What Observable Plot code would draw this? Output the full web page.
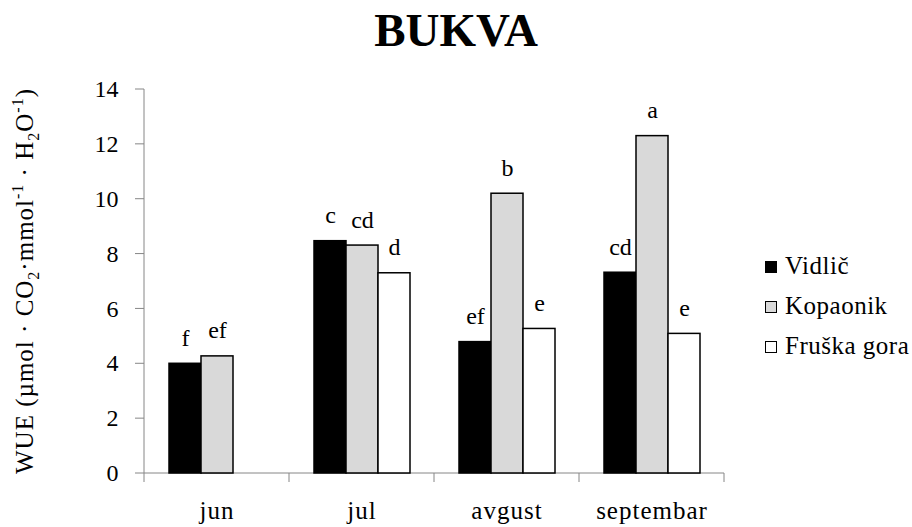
<!DOCTYPE html>
<html><head><meta charset="utf-8">
<script src="https://cdn.jsdelivr.net/npm/d3@7"></script>
<script src="https://cdn.jsdelivr.net/npm/@observablehq/plot@0.6"></script>
<style>
body{margin:0;background:#fff;}
#wrap{width:912px;height:527px;position:relative;overflow:hidden;font-family:"Liberation Serif",serif;background:#fff;}
#title{height:60px;line-height:60px;text-align:center;font-weight:bold;font-size:47px;color:#000;}
#chart svg [aria-label^="fx-axis"] text{font-size:25px;letter-spacing:1px;}
</style></head><body>
<div id="wrap"><div id="title">BUKVA</div><div id="chart"></div></div>
<script>
const months = ["jun", "jul", "avgust", "septembar"];
const sites = ["Vidlič", "Kopaonik", "Fruška gora"];
const vidlic = [4.0, 8.47, 4.79, 7.32];
const kopaonik = [4.27, 8.31, 10.2, 12.3];
const fruska = [null, 7.30, 5.27, 5.09];
const vidlicLetters = ["f", "c", "ef", "cd"];
const kopaonikLetters = ["ef", "cd", "b", "a"];
const fruskaLetters = [null, "d", "e", "e"];
const siteColors = ["#000000", "#d9d9d9", "#ffffff"];
const yTicks = [0, 2, 4, 6, 8, 10, 12, 14];

const series = [vidlic, kopaonik, fruska];
const letters = [vidlicLetters, kopaonikLetters, fruskaLetters];
const data = [];
months.forEach((m, i) => {
  sites.forEach((s, j) => {
    if (series[j][i] != null) data.push({month: m, site: s, value: series[j][i], letter: letters[j][i]});
  });
});

const plot = Plot.plot({
  width: 912, height: 467,
  marginLeft: 142, marginRight: 187, marginTop: 29, marginBottom: 54,
  style: {fontFamily: '"Liberation Serif", serif', fontSize: "24px", color: "black", background: "white", overflow: "visible"},
  fx: {domain: months, padding: 0, axis: "bottom", tickSize: 0, tickPadding: 28, label: null},
  x: {domain: sites, paddingInner: 0, paddingOuter: 0.708, axis: null},
  y: {domain: [0, 14], ticks: yTicks, tickSize: 0, tickPadding: 26, label: null},
  color: {domain: sites, range: siteColors},
  marks: [
    Plot.barY(data, {fx: "month", x: "site", y: "value", fill: "site", stroke: "black", strokeWidth: 1.5}),
    Plot.text(data, {fx: "month", x: "site", y: "value", text: "letter", lineAnchor: "bottom", dy: -18, fontSize: 24})
  ]
});
document.getElementById("chart").appendChild(plot);

const svg = d3.select(plot.tagName.toLowerCase() === "svg" ? plot : plot.querySelector("svg"));
const ys = plot.scale("y"), fxs = plot.scale("fx");
const x0 = fxs.apply(months[0]);
const xEnd = fxs.apply(months[months.length - 1]) + fxs.bandwidth;
const y0 = ys.apply(0);
const axes = svg.insert("g", ":first-child").attr("stroke", "#868686").attr("stroke-width", 1).attr("fill", "none");
axes.append("line").attr("x1", x0).attr("x2", x0).attr("y1", y0).attr("y2", ys.apply(14));
yTicks.forEach(t => axes.append("line").attr("x1", x0 - 9).attr("x2", x0).attr("y1", ys.apply(t)).attr("y2", ys.apply(t)));
axes.append("line").attr("x1", x0).attr("x2", xEnd).attr("y1", y0).attr("y2", y0);
const bounds = months.map(m => fxs.apply(m)).concat([xEnd]);
bounds.forEach(b => axes.append("line").attr("x1", b).attr("x2", b).attr("y1", y0).attr("y2", y0 + 9));

// legend
const leg = svg.append("g").attr("font-family", '"Liberation Serif", serif').attr("font-size", 25).attr("text-anchor", "start");
sites.forEach((s, i) => {
  leg.append("rect").attr("x", 765.5).attr("y", 201.5 + 40 * i).attr("width", 11).attr("height", 11)
    .attr("fill", siteColors[i]).attr("stroke", "black").attr("stroke-width", 1);
  leg.append("text").attr("x", 785).attr("y", 214 + 40 * i).attr("text-anchor", "start").attr("letter-spacing", 0.5).text(s);
});

// y-axis title
const yl = svg.append("text").attr("transform", "translate(33,221) rotate(-90)")
  .attr("text-anchor", "middle").attr("font-family", '"Liberation Serif", serif').attr("font-size", 25).attr("letter-spacing", 1);
const parts = [["WUE (µmol · CO", 0], ["2", 1], ["·mmol", 0], ["-1", 2], [" · H", 0], ["2", 1], ["O", 0], ["-1", 2], [")", 0]];
let shift = 0;
parts.forEach(([t, k]) => {
  const target = k === 1 ? 6 : k === 2 ? -10 : 0;
  const ts = yl.append("tspan").attr("dy", target - shift).text(t);
  if (k) ts.attr("font-size", 16);
  shift = target;
});
</script>
</body></html>
